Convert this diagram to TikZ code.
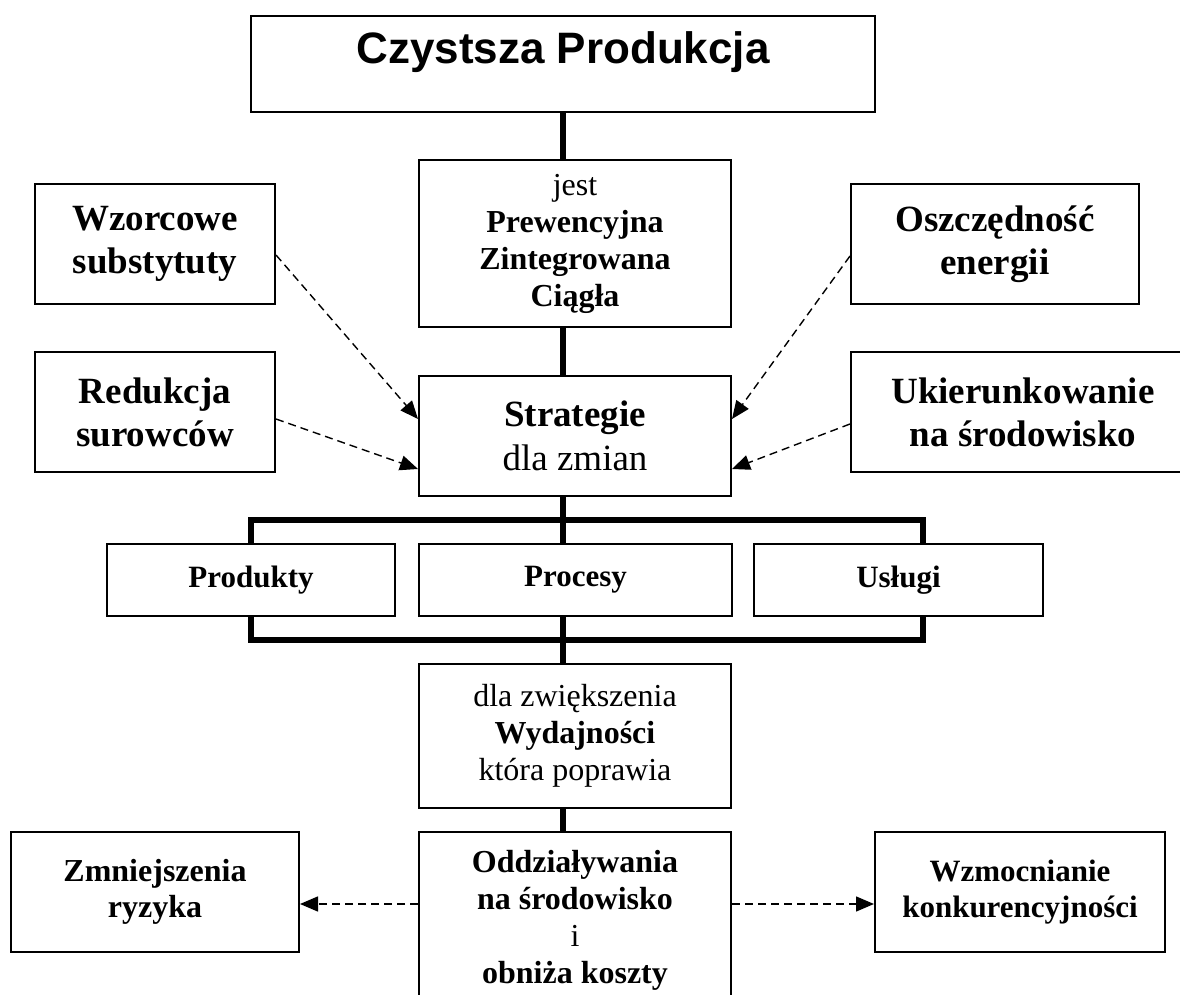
\documentclass[tikz,border=0pt]{standalone}
\usepackage{fontspec}
\setmainfont{Liberation Serif}
\newfontfamily\headfont{Liberation Sans}
\usetikzlibrary{arrows.meta, calc}
\tikzstyle{link} = [line width=3pt]
\tikzstyle{hint} = [dashed, dash pattern=on 4pt off 2.5pt, line width=0.7pt, -{Triangle[length=9pt,width=7.5pt]}]

\begin{document}
\begin{tikzpicture}[
  x=0.5pt, y=-0.5pt,
  box/.style={rectangle, draw=black, line width=1pt, fill=white, align=center, inner sep=2pt},
  side/.style={box, minimum width=120pt, minimum height=60pt, font=\fontsize{18.5}{21.5}\selectfont\bfseries},
  mid/.style={box, minimum width=156pt, font=\fontsize{16}{18.5}\selectfont},
  leaf/.style={box, minimum height=36pt, font=\fontsize{15.5}{18}\selectfont\bfseries}
]
\useasboundingbox (0,0) rectangle (1180,995);

\coordinate (bl) at (251,520);
\coordinate (br) at (923,640);
\coordinate (trunk) at (563,0);

% main column
\node[box, minimum width=312pt, minimum height=48pt, text height=12pt, text depth=12pt,
  font=\headfont\bfseries\fontsize{22}{25}\selectfont] (top) at (563,64) {Czystsza Produkcja};
\node[mid, minimum height=83.5pt] (jest) at (575,243.5) {jest\\\textbf{Prewencyjna}\\\textbf{Zintegrowana}\\\textbf{Ciągła}};
\node[mid, minimum height=60pt, font=\fontsize{18.5}{22}\selectfont] (strat) at (575,436) {\textbf{Strategie}\\dla zmian};
\node[mid, minimum height=72pt] (dla) at (575,736) {dla zwiększenia\\\textbf{Wydajności}\\która poprawia};
\node[mid, minimum height=88pt, font=\fontsize{16}{18.5}\selectfont\bfseries] (odd) at (575,920) {Oddziaływania\\na środowisko\\\textmd{i}\\obniża koszty};

% side boxes
\node[side] (wzor) at (155,244) {Wzorcowe\\substytuty};
\node[side] (red) at (155,412) {Redukcja\\surowców};
\node[side, minimum width=144pt] (osz) at (995,244) {Oszczędność\\energii};
\node[side, minimum width=172pt] (ukier) at (1023,412) {Ukierunkowanie\\na środowisko};

% bus round the three areas
\draw[link] (bl) -- (br |- bl) -- (br) -- (bl |- br) -- cycle;

% areas of change
\node[leaf, minimum width=144pt] (prod) at (251,580) {Produkty};
\node[leaf, minimum width=156.5pt] (proc) at (575.5,580) {Procesy};
\node[leaf, minimum width=144.5pt] (usl) at (898.5,580) {Usługi};

% effects
\node[box, minimum width=144pt, minimum height=60pt, font=\fontsize{16}{18}\selectfont\bfseries] (zmn) at (155,892) {Zmniejszenia\\ryzyka};
\node[box, minimum width=145pt, minimum height=60pt, font=\fontsize{15.5}{18}\selectfont\bfseries] (wzm) at (1020,892) {Wzmocnianie\\konkurencyjności};

% trunk
\draw[link] (top.south -| trunk) -- (jest.north -| trunk);
\draw[link] (jest.south -| trunk) -- (strat.north -| trunk);
\draw[link] (strat.south -| trunk) -- (proc.north -| trunk);
\draw[link] (proc.south -| trunk) -- (dla.north -| trunk);
\draw[link] (dla.south -| trunk) -- (odd.north -| trunk);

% dashed influences
\draw[hint] ($(wzor.north east)+(0,72)$) -- ($(strat.north west)+(0,44)$);
\draw[hint] ($(red.north east)+(0,68)$) -- ($(strat.north west)+(0,94)$);
\draw[hint] ($(osz.north west)+(0,73)$) -- ($(strat.north east)+(0,44)$);
\draw[hint] ($(ukier.north west)+(0,73)$) -- ($(strat.north east)+(0,94)$);
\draw[hint] ($(odd.north west)+(0,73)$) -- ($(zmn.north east)+(0,73)$);
\draw[hint] ($(odd.north east)+(0,73)$) -- ($(wzm.north west)+(0,73)$);

\end{tikzpicture}
\end{document}
